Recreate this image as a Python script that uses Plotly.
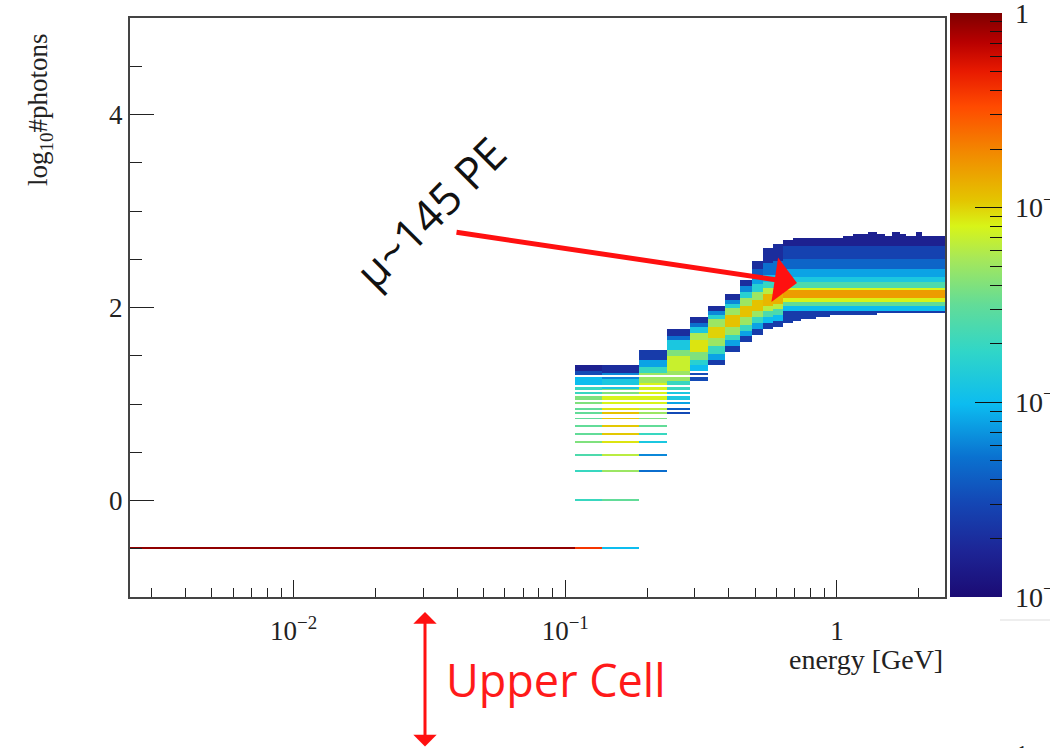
import numpy as np
import plotly.graph_objects as go

# ---------------- data ----------------
# energy column edges [GeV]
E_EDGES = [0.0025, 0.109, 0.136, 0.187, 0.236, 0.288, 0.336, 0.388, 0.44, 0.486,
           0.536, 0.583, 0.635, 0.69, 0.74, 0.79, 0.84, 0.94, 1.05, 1.15, 1.30,
           1.40, 1.50, 1.60, 1.70, 1.80, 1.95, 2.05, 2.5]

# log10(fraction) for zero-photon events (drawn at y = -0.5) in the first columns
ZERO_LINE = [-0.05, -0.4, -2.0]

# per column: (log10#photons low, high, log10 fraction) for the rising part
SEG_C1 = [(-0.05, 0.05, -1.7), (0.25, 0.35, -1.7), (0.45, 0.5, -1.6), (0.58, 0.65, -1.4),
          (0.65, 0.98, -1.5), (0.98, 1.1, -1.4), (1.1, 1.2, -1.7), (1.2, 1.3, -2.0),
          (1.3, 1.33, -2.5), (1.33, 1.41, -2.8)]
SEG_C2 = [(-0.05, 0.05, -1.5), (0.25, 0.35, -1.3), (0.45, 0.5, -1.2), (0.58, 0.65, -1.05),
          (0.65, 0.87, -0.97), (0.87, 0.93, -0.95), (0.93, 0.98, -1.05), (0.98, 1.1, -1.1),
          (1.1, 1.16, -1.4), (1.16, 1.27, -1.9), (1.27, 1.31, -2.2), (1.31, 1.41, -2.7)]
SEG_C3 = [(0.25, 0.35, -2.3), (0.45, 0.5, -2.2), (0.58, 0.65, -1.9), (0.65, 0.72, -1.7),
          (0.72, 0.8, -1.5), (0.8, 0.87, -1.4), (0.87, 0.93, -1.3), (0.93, 0.98, -1.2),
          (0.98, 1.21, -1.1), (1.21, 1.31, -1.3), (1.31, 1.38, -1.7), (1.38, 1.46, -2.1),
          (1.46, 1.55, -2.6)]
SEG_C4 = [(0.87, 0.93, -2.5), (0.93, 0.98, -2.4), (0.98, 1.02, -2.1), (1.02, 1.12, -1.9),
          (1.12, 1.24, -1.7), (1.24, 1.33, -1.3), (1.33, 1.50, -1.15), (1.50, 1.57, -1.4),
          (1.57, 1.66, -1.9), (1.66, 1.70, -2.3), (1.70, 1.77, -2.7)]
SEG_C5 = [(1.24, 1.31, -2.5), (1.33, 1.40, -2.0), (1.40, 1.47, -1.8), (1.47, 1.55, -1.4),
          (1.55, 1.66, -1.05), (1.66, 1.75, -1.25), (1.75, 1.80, -1.9), (1.80, 1.85, -2.3),
          (1.85, 1.90, -2.7)]
SEG_C6 = [(1.40, 1.47, -2.6), (1.47, 1.53, -2.1), (1.53, 1.60, -1.7), (1.60, 1.68, -1.3),
          (1.68, 1.80, -1.0), (1.80, 1.88, -1.3), (1.88, 1.93, -1.8), (1.93, 1.97, -2.2),
          (1.97, 2.02, -2.7)]
SEG_C7 = [(1.54, 1.60, -2.6), (1.60, 1.66, -2.1), (1.66, 1.72, -1.7), (1.72, 1.80, -1.3),
          (1.80, 1.93, -0.95), (1.93, 2.00, -1.3), (2.00, 2.05, -1.8), (2.05, 2.09, -2.2),
          (2.09, 2.14, -2.7)]
SEG_C8 = [(1.64, 1.70, -2.6), (1.70, 1.76, -2.1), (1.76, 1.82, -1.7), (1.82, 1.90, -1.3),
          (1.90, 2.03, -0.95), (2.03, 2.10, -1.3), (2.10, 2.16, -1.8), (2.16, 2.22, -2.2),
          (2.22, 2.28, -2.7)]
SEG_C9 = [(1.73, 1.78, -2.6), (1.78, 1.84, -2.1), (1.84, 1.90, -1.7), (1.90, 1.97, -1.3),
          (1.97, 2.08, -0.95), (2.08, 2.16, -1.3), (2.16, 2.24, -1.8), (2.24, 2.33, -2.1),
          (2.33, 2.40, -2.4), (2.40, 2.47, -2.7)]
SEG_C10 = [(1.78, 1.84, -2.6), (1.84, 1.90, -2.0), (1.90, 1.96, -1.6), (1.96, 2.03, -1.2),
           (2.03, 2.14, -0.9), (2.14, 2.20, -1.2), (2.20, 2.27, -1.7), (2.27, 2.35, -2.0),
           (2.35, 2.47, -2.3), (2.47, 2.61, -2.7)]
SEG_C11 = [(1.81, 1.86, -2.6), (1.86, 1.92, -2.0), (1.92, 1.98, -1.6), (1.98, 2.05, -1.2),
           (2.05, 2.15, -0.88), (2.15, 2.20, -1.15), (2.20, 2.27, -1.7), (2.27, 2.35, -2.0),
           (2.35, 2.48, -2.3), (2.48, 2.66, -2.7)]

# plateau profile (log10#photons low, high, log10 fraction) and per-column extent
PLATEAU_PROFILE = [(1.80, 1.96, -2.6), (1.96, 2.02, -2.0), (2.02, 2.07, -1.5), (2.07, 2.10, -1.1),
                   (2.10, 2.18, -0.8), (2.18, 2.21, -1.1), (2.21, 2.26, -1.6), (2.26, 2.33, -1.9),
                   (2.33, 2.40, -2.1), (2.40, 2.51, -2.35), (2.51, 2.64, -2.55), (2.64, 2.80, -2.8)]
PLATEAU_LO = [1.84, 1.86, 1.88, 1.89, 1.91, 1.92, 1.92, 1.93, 1.93, 1.94, 1.94, 1.94, 1.94, 1.94, 1.94, 1.94]
PLATEAU_HI = [2.69, 2.71, 2.71, 2.71, 2.71, 2.72, 2.73, 2.75, 2.78, 2.75, 2.74, 2.78, 2.75, 2.74, 2.78, 2.74]

# ---------------- build the 2D histogram ----------------
RISING = [[], SEG_C1, SEG_C2, SEG_C3, SEG_C4, SEG_C5, SEG_C6, SEG_C7, SEG_C8, SEG_C9, SEG_C10, SEG_C11]
PLATEAU = []
for lo, hi in zip(PLATEAU_LO, PLATEAU_HI):
    PLATEAU.append([(max(a, lo), min(b, hi), v) for (a, b, v) in PLATEAU_PROFILE if b > lo and a < hi])
ALL_SEGS = RISING + PLATEAU

NCOL = len(E_EDGES) - 1
DY = 0.02
NY = 300
y_edges = np.round(np.linspace(-1, 5, NY + 1), 4)
z = np.full((NY, NCOL), np.nan)


def ybin(y):
    return int(np.floor((y + 1) / DY + 1e-9))


for j, v in enumerate(ZERO_LINE):
    z[ybin(-0.5), j] = v
for j, segs in enumerate(ALL_SEGS):
    for (ylo, yhi, v) in segs:
        for n in range(max(1, int(np.floor(10 ** ylo))), int(np.ceil(10 ** yhi)) + 1):
            yv = np.log10(n)
            if ylo <= yv < yhi:
                z[ybin(yv), j] = v

COLORSCALE = [
    [0.00, "#1b0b74"], [0.08, "#1d2596"], [0.16, "#1446b4"], [0.24, "#0a72d0"],
    [0.33, "#0cbcf0"], [0.42, "#30d6c8"], [0.50, "#62dc98"], [0.58, "#a8e858"],
    [0.635, "#d8f418"], [0.68, "#e4c400"], [0.76, "#f28a00"], [0.84, "#ff4a00"],
    [0.90, "#e81a00"], [0.95, "#b80000"], [1.00, "#7e0000"]]

SERIF = "Liberation Serif"
SANS = "Open Sans"
NB = "\u00a0"

fig = go.Figure()
fig.add_trace(go.Heatmap(
    x=E_EDGES, y=y_edges, z=z, zmin=-3, zmax=0, colorscale=COLORSCALE,
    hoverinfo="skip",
    colorbar=dict(
        x=1.0061, xanchor="left", xpad=0, y=-0.0, yanchor="bottom", ypad=0, len=1.008,
        lenmode="fraction", thickness=52, thicknessmode="pixels", outlinewidth=0,
        tickvals=[-3, -2, -1, 0],
        ticktext=[NB + "10<sup>−3</sup>", NB + "10<sup>−2</sup>", NB + "10<sup>−1</sup>", NB + "1"],
        ticks="inside", ticklen=27, tickcolor="#111", tickwidth=1, ticklabeloverflow="allow",
        tickfont=dict(family=SERIF, size=28, color="#222")),
))
MINOR_CB = [np.log10(k * 10.0 ** e) for e in (-3, -2, -1) for k in range(2, 10)]
fig.add_trace(go.Heatmap(
    x=[0.004, 0.005], y=[4.8, 4.9], z=[[-3, 0]], zmin=-3, zmax=0,
    colorscale=[[0, "rgba(0,0,0,0)"], [1, "rgba(0,0,0,0)"]], hoverinfo="skip",
    colorbar=dict(
        x=1.0061, xanchor="left", xpad=0, y=-0.0, yanchor="bottom", ypad=0, len=1.008,
        lenmode="fraction", thickness=52, thicknessmode="pixels", outlinewidth=0,
        tickvals=MINOR_CB, ticks="inside", ticklen=12, tickcolor="#111", tickwidth=1,
        showticklabels=False),
))

MINOR_X = [k * 10.0 ** e for e in (-3, -2, -1, 0) for k in range(2, 10) if 0.0025 <= k * 10.0 ** e <= 2.5]

fig.update_layout(
    width=1050, height=748, margin=dict(l=130, r=105, t=18, b=151, autoexpand=False),
    plot_bgcolor="white", paper_bgcolor="white", showlegend=False,
    xaxis=dict(type="log", range=[np.log10(0.0025), np.log10(2.5)],
               tickvals=[0.01, 0.1, 1], ticktext=["10<sup>−2</sup>", "10<sup>−1</sup>", "1"],
               ticks="inside", ticklen=17, tickwidth=1, tickcolor="#222",
               showline=True, linecolor="#444", linewidth=2, mirror=True,
               showgrid=False, zeroline=False, ticklabelstandoff=9,
               tickfont=dict(family=SERIF, size=27, color="#222"),
               minor=dict(tickvals=MINOR_X, ticks="inside", ticklen=9, tickcolor="#222", showgrid=False)),
    yaxis=dict(range=[-1, 5], tickvals=[0, 2, 4], ticks="inside", ticklen=24, tickwidth=1,
               tickcolor="#222", showline=True, linecolor="#444", linewidth=2, mirror=True,
               showgrid=False, zeroline=False,
               tickfont=dict(family=SERIF, size=27, color="#222"),
               minor=dict(dtick=0.5, tick0=0, ticks="inside", ticklen=12, tickcolor="#222", showgrid=False)),
)


def px(xp):
    return (xp - 130) / 815.0


def py(yp):
    return (597 - yp) / 579.0


fig.add_annotation(xref="paper", yref="paper", x=px(40), y=py(110), xanchor="center", yanchor="middle",
                   text="log<sub>10</sub>#photons", textangle=-90, showarrow=False,
                   font=dict(family=SERIF, size=27, color="#222"))
fig.add_annotation(xref="paper", yref="paper", x=1.0, y=py(659), xanchor="right", yanchor="middle",
                   text="energy [GeV]", showarrow=False, font=dict(family=SERIF, size=28, color="#222"))
fig.add_annotation(xref="paper", yref="paper", x=px(430), y=py(212), xanchor="center", yanchor="middle",
                   text="μ~145 PE", textangle=-45,
                   showarrow=False, font=dict(family=SANS, size=44, color="#111"))
fig.add_annotation(xref="paper", yref="paper", x=px(797), y=py(283), ax=455 - 797, ay=232 - 283,
                   text="", showarrow=True, arrowcolor="#ff1010", arrowwidth=5, arrowhead=1, arrowsize=1.5)
fig.add_annotation(xref="paper", yref="paper", x=px(556), y=py(679), xanchor="center", yanchor="middle",
                   text="Upper Cell", showarrow=False, font=dict(family=SANS, size=45, color="#ff1a1a"))
fig.add_annotation(xref="paper", yref="paper", x=px(425), y=py(612), ax=0, ay=136, text="",
                   showarrow=True, arrowside="end+start", arrowcolor="#ff1010", arrowwidth=3,
                   arrowhead=1, startarrowhead=1, arrowsize=1.3, startarrowsize=1.3)
fig.add_shape(type="line", xref="paper", yref="paper", x0=px(1000), x1=px(1050), y0=py(620), y1=py(620),
              line=dict(color="#dddddd", width=1))
fig.add_annotation(xref="paper", yref="paper", x=px(1022), y=py(738), xanchor="center", yanchor="top",
                   text="1", showarrow=False, font=dict(family=SERIF, size=24, color="#222"))

fig.write_html("out.html")
